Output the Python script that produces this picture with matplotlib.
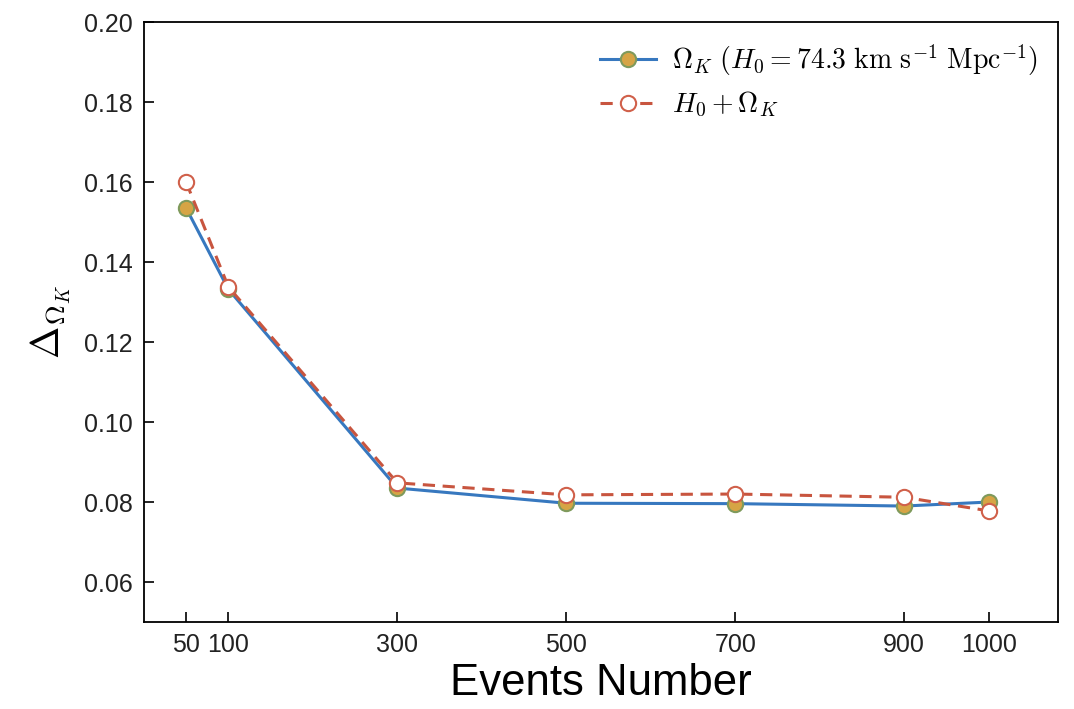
import matplotlib
matplotlib.use('Agg')
import matplotlib.pyplot as plt

plt.rcParams['font.family'] = ['Liberation Sans', 'DejaVu Sans']
plt.rcParams['mathtext.fontset'] = 'cm'

# 数据
events = [50, 100, 300, 500, 700, 900, 1000]
omega_k_fixed = [0.1535, 0.1332, 0.0835, 0.0797, 0.0796, 0.0790, 0.0800]
h0_omega_k = [0.1600, 0.1338, 0.0848, 0.0818, 0.0820, 0.0812, 0.0778]
xtick_labels = ['50', '100', '300', '500', '700', '900', '1000']
yticks = [0.06, 0.08, 0.10, 0.12, 0.14, 0.16, 0.18, 0.20]

fig = plt.figure(figsize=(10.74, 7.09), dpi=100)
ax = fig.add_axes([0.134, 0.1227, 0.851, 0.846])

ax.plot(events, omega_k_fixed, color='#3778bf', linestyle='-', linewidth=2.2,
        marker='o', markersize=11, markerfacecolor='#d6a445',
        markeredgecolor='#7f9a5c', markeredgewidth=1.5,
        label=r'$\Omega_K\ (H_0 = 74.3\ \mathrm{km\ s^{-1}\ Mpc^{-1}})$')
ax.plot(events, h0_omega_k, color='#c8553f', linestyle='--', linewidth=2.2,
        dashes=(4, 2.5),
        marker='o', markersize=11, markerfacecolor='white',
        markeredgecolor='#d0604a', markeredgewidth=1.5,
        label=r'$H_0 + \Omega_K$')

ax.set_xlim(0, 1082)
ax.set_ylim(0.05, 0.20)
ax.set_xticks(events)
ax.set_xticklabels(xtick_labels)
ax.set_yticks(yticks)
ax.set_yticklabels([f'{v:.2f}' for v in yticks])
ax.tick_params(direction='in', labelsize=18, length=7, width=1.2, pad=8,
               labelcolor='#222222')
for s in ax.spines.values():
    s.set_linewidth(1.3)

ax.set_xlabel('Events Number', fontsize=31.5, labelpad=4)
ax.set_ylabel(r'$\Delta_{\Omega_K}$', fontsize=28, labelpad=8)

ax.legend(loc='upper right', frameon=False, fontsize=20, handlelength=2.0,
          handletextpad=0.6, labelspacing=0.45, borderaxespad=0.3)

fig.savefig('out.png', dpi=100)
